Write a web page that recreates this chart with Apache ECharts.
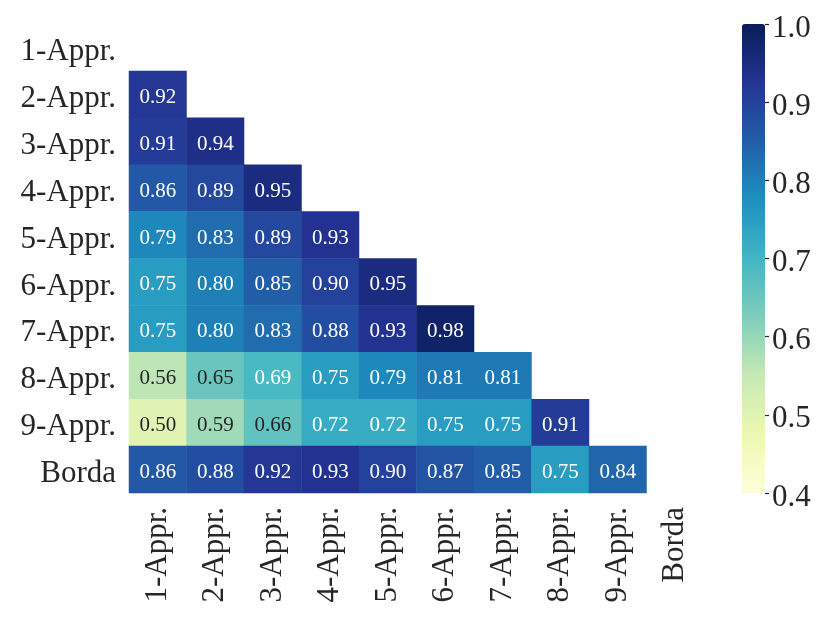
<!DOCTYPE html>
<html>
<head>
<meta charset="utf-8">
<script src="https://cdn.jsdelivr.net/npm/echarts@6/dist/echarts.min.js"></script>
<style>
  html, body { margin: 0; padding: 0; background: #fff; }
  #chart { width: 831px; height: 623px; }
</style>
</head>
<body>
<div id="chart"></div>
<script>
// row / column labels (same order on both axes)
const labels = ['1-Appr.', '2-Appr.', '3-Appr.', '4-Appr.', '5-Appr.',
  '6-Appr.', '7-Appr.', '8-Appr.', '9-Appr.', 'Borda'];

// lower triangle, one array per row (row i holds columns 0..i-1)
const row1 = [];
const row2 = [0.92];
const row3 = [0.91, 0.94];
const row4 = [0.86, 0.89, 0.95];
const row5 = [0.79, 0.83, 0.89, 0.93];
const row6 = [0.75, 0.80, 0.85, 0.90, 0.95];
const row7 = [0.75, 0.80, 0.83, 0.88, 0.93, 0.98];
const row8 = [0.56, 0.65, 0.69, 0.75, 0.79, 0.81, 0.81];
const row9 = [0.50, 0.59, 0.66, 0.72, 0.72, 0.75, 0.75, 0.91];
const rowBorda = [0.86, 0.88, 0.92, 0.93, 0.90, 0.87, 0.85, 0.75, 0.84];

const colorTicks = [0.4, 0.5, 0.6, 0.7, 0.8, 0.9, 1.0];
const vmin = 0.4;
const vmax = 1.0;

const rows = [row1, row2, row3, row4, row5, row6, row7, row8, row9, rowBorda];
const ylgnbu = ['#ffffd9', '#edf8b1', '#c7e9b4', '#7fcdbb', '#41b6c4',
  '#1d91c0', '#225ea8', '#253494', '#081d58'];

const cells = [];
rows.forEach((vals, r) => {
  vals.forEach((v, c) => {
    cells.push({
      value: [c, r, v],
      label: { color: v < 0.68 ? '#262626' : '#ffffff' },
    });
  });
});

const font = 'Liberation Serif';
const plotTop = 24;
const plotHeight = 469;
// nudges text a few pixels down, like the serif baseline of the original
const lowered = {
  t: { fontSize: 31, fontFamily: font, color: '#262626', padding: [9, 0, 0, 0] },
};

const chart = echarts.init(document.getElementById('chart'));
chart.setOption({
  animation: false,
  textStyle: { fontFamily: font },
  grid: [
    { left: 129, top: plotTop, width: 575, height: plotHeight },
    { left: 742, top: plotTop, width: 23, height: plotHeight },
  ],
  xAxis: [
    {
      type: 'category',
      data: labels,
      gridIndex: 0,
      axisLine: { show: false },
      axisTick: { show: false },
      splitLine: { show: false },
      axisLabel: {
        rotate: 90,
        margin: 14,
        fontSize: 31,
        fontFamily: font,
        color: '#262626',
      },
    },
    { type: 'value', gridIndex: 1, show: false, min: 0, max: 1 },
  ],
  yAxis: [
    {
      type: 'category',
      data: labels,
      inverse: true,
      gridIndex: 0,
      axisLine: { show: false },
      axisTick: { show: false },
      splitLine: { show: false },
      axisLabel: {
        margin: 13,
        fontSize: 31,
        fontFamily: font,
        color: '#262626',
        formatter: (v) => '{t|' + v + '}',
        rich: lowered,
      },
    },
    {
      type: 'value',
      gridIndex: 1,
      position: 'right',
      min: vmin,
      max: vmax,
      interval: 0.1,
      axisLine: { show: false, onZero: false },
      splitLine: { show: false },
      axisTick: {
        show: true,
        length: 4,
        lineStyle: { color: '#262626', width: 1.2 },
      },
      axisLabel: {
        margin: 7,
        fontSize: 31,
        fontFamily: font,
        color: '#262626',
        rich: lowered,
        formatter: (v) => (colorTicks.some((t) => Math.abs(t - v) < 1e-6) ? '{t|' + v.toFixed(1) + '}' : ''),
      },
    },
  ],
  visualMap: {
    type: 'continuous',
    min: vmin,
    max: vmax,
    seriesIndex: 0,
    orient: 'vertical',
    left: 742,
    top: plotTop,
    padding: 0,
    itemWidth: 23,
    itemHeight: plotHeight,
    calculable: false,
    hoverLink: false,
    text: null,
    inRange: { color: ylgnbu },
  },
  series: [
    {
      type: 'heatmap',
      xAxisIndex: 0,
      yAxisIndex: 0,
      data: cells,
      itemStyle: { borderWidth: 0 },
      emphasis: { disabled: true },
      label: {
        show: true,
        fontSize: 21,
        fontFamily: font,
        offset: [0, 3],
        formatter: (p) => p.value[2].toFixed(2),
      },
    },
    {
      type: 'scatter',
      xAxisIndex: 1,
      yAxisIndex: 1,
      data: [],
    },
  ],
});
</script>
</body>
</html>
